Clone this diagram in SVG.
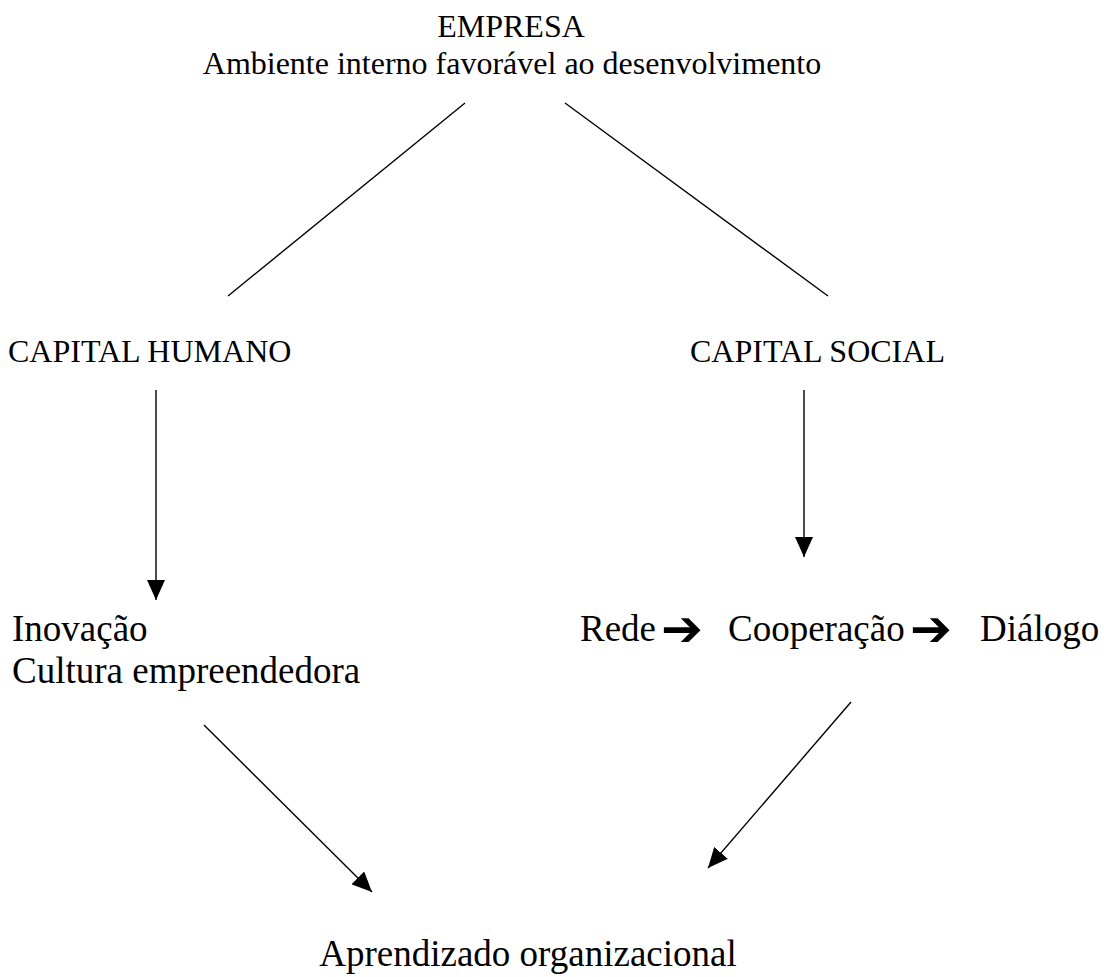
<svg xmlns="http://www.w3.org/2000/svg" width="1104" height="977" viewBox="0 0 1104 977">
<defs>
<style>
.t{font-family:"Liberation Serif","Times New Roman",serif;fill:#000}
.s{font-size:32px}
.l{font-size:37px}
.ar{font-family:"DejaVu Sans",sans-serif;font-weight:bold;font-size:50px;fill:#000}
.c{stroke:#000;stroke-width:1.4;fill:none}
</style>
<marker id="ah" viewBox="0 0 20 18" refX="20" refY="9" markerWidth="20" markerHeight="18" markerUnits="userSpaceOnUse" orient="auto">
<path d="M0,0 L20,9 L0,18 Z" fill="#000"/>
</marker>
</defs>
<rect width="1104" height="977" fill="#fff"/>
<g id="empresa">
<text class="t s" x="511" y="37" text-anchor="middle">EMPRESA</text>
<text class="t s" x="512" y="74" text-anchor="middle">Ambiente interno favorável ao desenvolvimento</text>
</g>
<g id="capital-humano">
<text class="t s" x="8" y="362">CAPITAL HUMANO</text>
</g>
<g id="capital-social">
<text class="t s" x="690" y="362">CAPITAL SOCIAL</text>
</g>
<g id="inovacao">
<text class="t l" x="12" y="641">Inovação</text>
<text class="t l" x="12" y="683">Cultura empreendedora</text>
</g>
<g id="rede">
<text class="t l" x="580" y="641">Rede</text>
<text class="ar" x="661" y="646" textLength="42" lengthAdjust="spacingAndGlyphs">➔</text>
<text class="t l" x="728" y="641">Cooperação</text>
<text class="ar" x="910" y="646" textLength="42" lengthAdjust="spacingAndGlyphs">➔</text>
<text class="t l" x="980" y="641">Diálogo</text>
</g>
<g id="aprendizado">
<text class="t l" x="528" y="966" text-anchor="middle">Aprendizado organizacional</text>
</g>
<g id="connectors">
<line class="c" x1="465" y1="103" x2="228" y2="296"/>
<line class="c" x1="565" y1="103" x2="828" y2="296"/>
<line class="c" x1="156" y1="390" x2="156" y2="600" marker-end="url(#ah)"/>
<line class="c" x1="804" y1="390" x2="804" y2="557" marker-end="url(#ah)"/>
<line class="c" x1="204" y1="725" x2="372" y2="892" marker-end="url(#ah)"/>
<line class="c" x1="851" y1="702" x2="708" y2="868" marker-end="url(#ah)"/>
</g>
</svg>
